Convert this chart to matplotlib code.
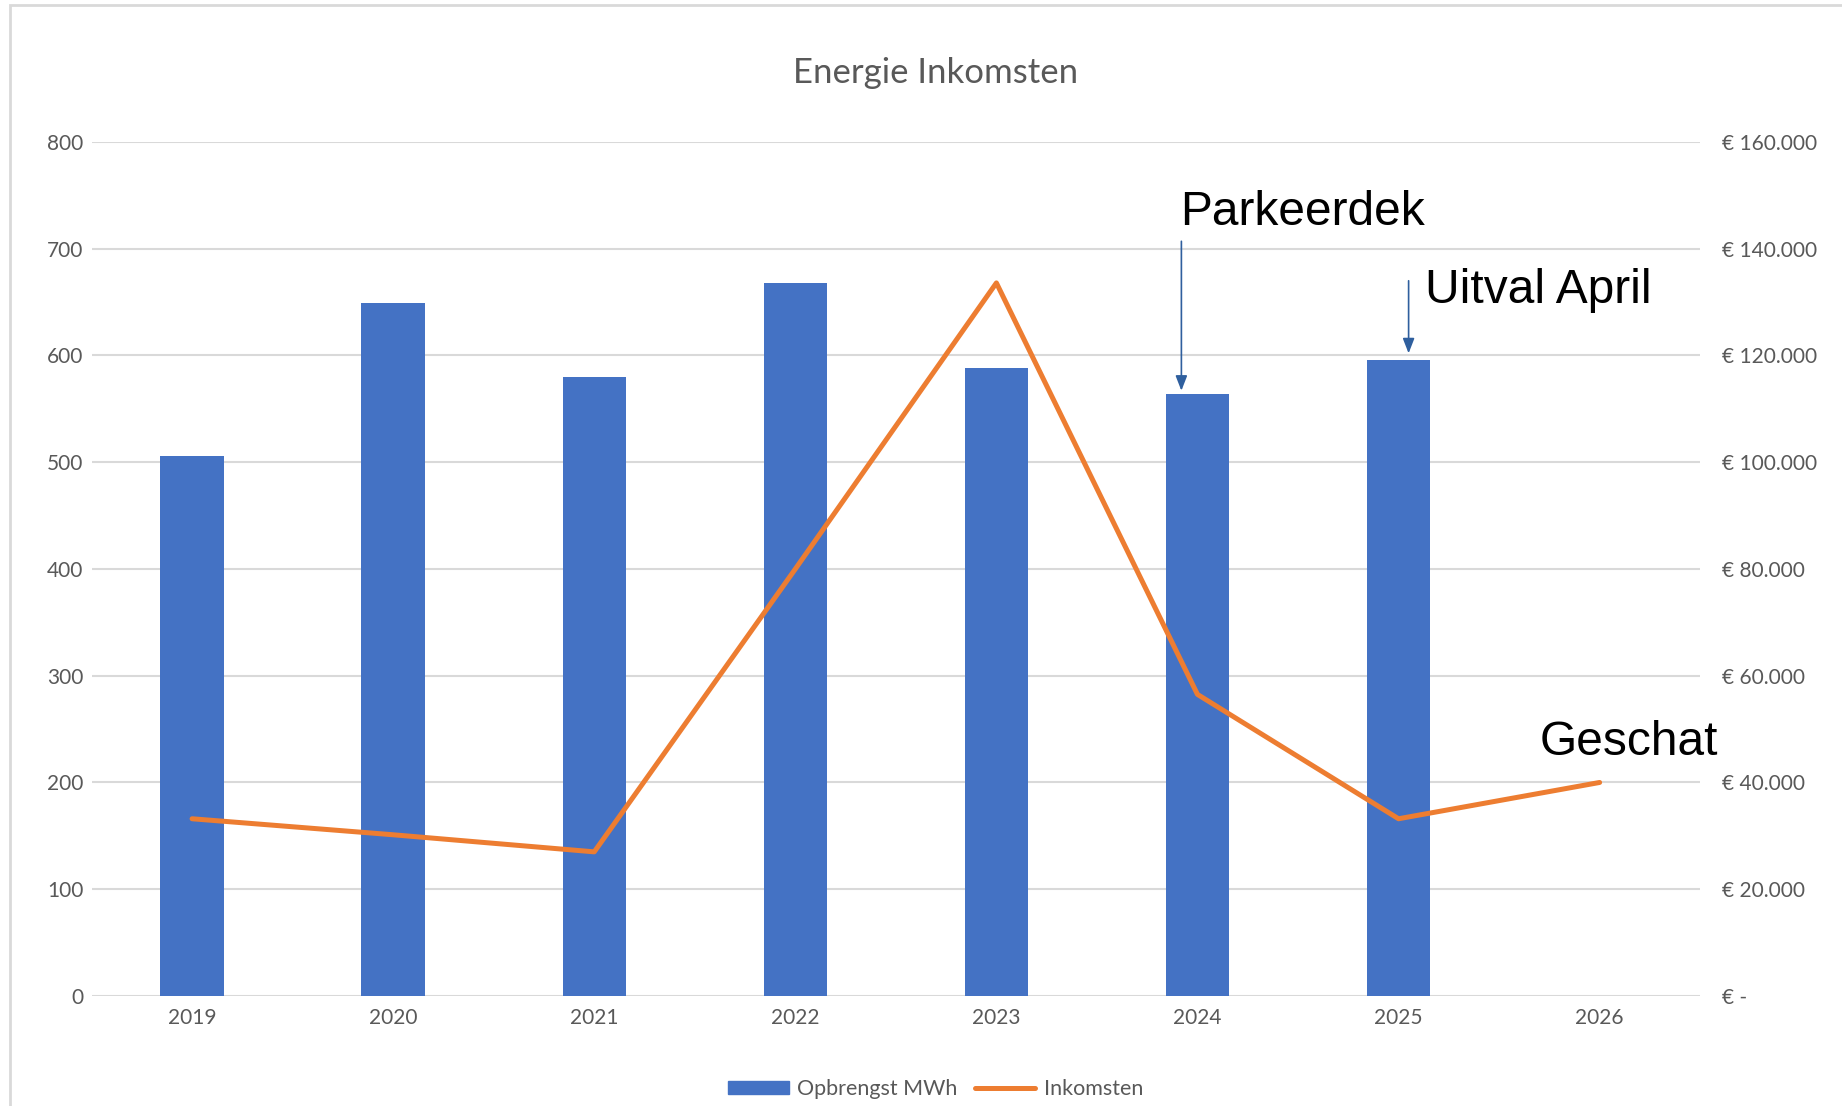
import matplotlib.pyplot as plt
from matplotlib.patches import Rectangle, Patch
from matplotlib.lines import Line2D
from matplotlib.ticker import FuncFormatter

# data
years = ['2019', '2020', '2021', '2022', '2023', '2024', '2025', '2026']
opbrengst_mwh = [506, 649, 580, 668, 588, 564, 596, None]
inkomsten = [33200, 30200, 27000, 80000, 133600, 56500, 33200, 40000]

left_ticks = list(range(0, 801, 100))
right_ticks = list(range(0, 160001, 20000))

blue = '#4472C4'
orange = '#ED7D31'
grey_txt = '#595959'
grid_col = '#D9D9D9'
arrow_col = '#2F5F9E'

plt.rcParams['font.family'] = ['Lato', 'DejaVu Sans']

fig = plt.figure(figsize=(18.42, 11.06), dpi=100)
ax = fig.add_axes([0.0497, 0.0995, 0.8733, 0.7721])

# outer chart border (only top and left visible)
fig.patches.append(Rectangle((10 / 1842, -0.05), 1.2, 1.05 - 5 / 1106,
                             transform=fig.transFigure, fill=False,
                             edgecolor='#D9D9D9', lw=2))

x = list(range(len(years)))
bar_x = [i for i, v in zip(x, opbrengst_mwh) if v is not None]
bar_v = [v for v in opbrengst_mwh if v is not None]
ax.bar(bar_x, bar_v, width=0.315, color=blue, zorder=2)

ax.set_xlim(-0.5, len(years) - 0.5)
ax.set_ylim(0, 800)
ax.set_yticks(left_ticks)
ax.set_xticks(x)
ax.set_xticklabels(years)
ax.yaxis.grid(True, color=grid_col, lw=1.5, zorder=0)
ax.set_axisbelow(True)
for s in ax.spines.values():
    s.set_visible(False)
ax.tick_params(axis='y', length=0, pad=6, labelsize=15, labelcolor=grey_txt)
ax.tick_params(axis='x', length=0, pad=9, labelsize=15, labelcolor=grey_txt)

ax2 = ax.twinx()
ax2.plot(x, inkomsten, color=orange, lw=3.6, solid_capstyle='round',
         solid_joinstyle='round', zorder=3)
ax2.set_ylim(0, 160000)
ax2.set_yticks(right_ticks)


def euro(v, pos):
    if v == 0:
        return '€ -'
    return '€ ' + f'{int(v):,}'.replace(',', '.')


ax2.yaxis.set_major_formatter(FuncFormatter(euro))
for s in ax2.spines.values():
    s.set_visible(False)
ax2.tick_params(axis='y', length=0, pad=16, labelsize=15, labelcolor=grey_txt)

fig.text(0.508, 0.934, 'Energie Inkomsten', ha='center', va='center',
         fontsize=25, color=grey_txt)

# annotations
arrow = dict(arrowstyle='-|>,head_width=0.35,head_length=0.9',
             color=arrow_col, lw=1.2, shrinkA=0, shrinkB=0)
ax2.annotate('', xy=(4.92, opbrengst_mwh[5] + 3), xytext=(4.92, 707),
             xycoords=ax.transData, textcoords=ax.transData, arrowprops=arrow)
ax2.annotate('', xy=(6.05, opbrengst_mwh[6] + 6), xytext=(6.05, 670),
             xycoords=ax.transData, textcoords=ax.transData, arrowprops=arrow)
ax2.text(4.915, 734, 'Parkeerdek', transform=ax.transData, ha='left', va='center',
         fontsize=34.5, family='Liberation Sans', color='black')
ax2.text(6.13, 661, 'Uitval April', transform=ax.transData, ha='left', va='center',
         fontsize=34.5, family='Liberation Sans', color='black')
ax2.text(6.70, 237, 'Geschat', transform=ax.transData, ha='left', va='center',
         fontsize=34.5, family='Liberation Sans', color='black')

handles = [Patch(facecolor=blue, edgecolor=blue),
           Line2D([0], [0], color=orange, lw=3.6, solid_capstyle='round')]
fig.legend(handles, ['Opbrengst MWh', 'Inkomsten'], loc='center',
           bbox_to_anchor=(0.508, 0.0154), ncol=2, frameon=False,
           fontsize=15.5, labelcolor=grey_txt, handlelength=2.8,
           handleheight=0.6, columnspacing=0.8, handletextpad=0.4)

fig.savefig('out.png', dpi=100)
